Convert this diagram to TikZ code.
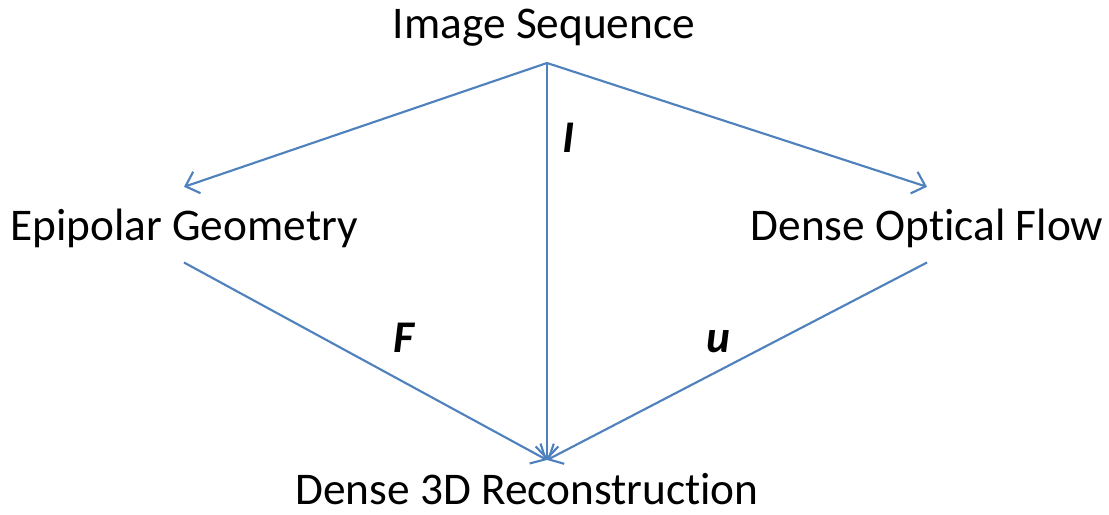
\documentclass[tikz,border=0pt]{standalone}
\usepackage{fontspec}
\setmainfont{Carlito}[Ligatures={NoCommon}]
\usetikzlibrary{arrows.meta}

\definecolor{flowblue}{RGB}{79,129,189}

\tikzset{every picture/.style={line width=0.75pt}}
\tikzset{
  label text/.style={inner sep=0pt,font=\fontsize{34}{40}\selectfont,text height=32pt,text depth=9pt,inner ysep=7.5pt},
  var text/.style={inner sep=0pt,font=\fontsize{34}{40}\selectfont\bfseries\itshape},
  flow/.style={draw=flowblue,line width=1.6pt},
  flow arrow/.style={flow,-{Straight Barb[length=9pt,width=17pt,line width=1.6pt]}}
}

\begin{document}
\begin{tikzpicture}[x=0.75pt,y=0.75pt,yscale=-1,xscale=1]
  \useasboundingbox (0,0) rectangle (1109,514);

  % Text Node
  \node (imgseq) [label text,anchor=base] at (544,38) {Image Sequence};
  % Text Node
  \node (epigeo) [label text,anchor=base] at (184,240) {Epipolar Geometry};
  % Text Node
  \node (optflow) [label text,anchor=base] at (927,240) {Dense Optical Flow};
  % Text Node
  \node (recon) [label text,anchor=base] at (527,504) {Dense 3D Reconstruction};

  \coordinate (apex) at (547,63);
  \coordinate (meet) at (547,460);

  % Connectors
  \draw [flow arrow] (apex) -- (epigeo.north);
  \draw [flow arrow] (apex) -- (optflow.north);
  \draw [flow arrow] (apex) -- (meet);
  \draw [flow arrow] (epigeo.south) -- (meet);
  \draw [flow arrow] (optflow.south) -- (meet);

  % Variable labels
  \node (ivar) [var text,anchor=base] at (569,152) {I};
  \node (fvar) [var text,anchor=base] at (404,352) {F};
  \node (uvar) [var text,anchor=base] at (718,352) {u};
\end{tikzpicture}
\end{document}
